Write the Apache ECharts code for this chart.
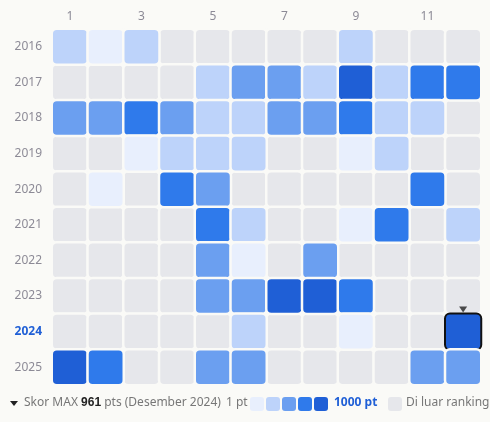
<!DOCTYPE html><html><head><meta charset="utf-8"><script src="https://cdn.jsdelivr.net/npm/echarts@6/dist/echarts.min.js"></script>
<style>html,body{margin:0;background:#fafaf7}#c{width:490px;height:422px}</style></head><body><div id="c"></div><script>
const months=['1','2','3','4','5','6','7','8','9','10','11','12'];
const years=['2016','2017','2018','2019','2020','2021','2022','2023','2024','2025'];
// score per month (null = outside ranking)
const s2016=[300,100,300,null,null,null,null,null,300,null,null,null];
const s2017=[null,null,null,null,300,550,550,300,950,300,780,780];
const s2018=[550,550,780,550,300,300,550,550,780,300,300,null];
const s2019=[null,null,100,300,300,300,null,null,100,300,null,null];
const s2020=[null,100,null,780,550,null,null,null,null,null,780,null];
const s2021=[null,null,null,null,780,300,null,null,100,780,null,300];
const s2022=[null,null,null,null,550,100,null,550,null,null,null,null];
const s2023=[null,null,null,null,550,550,950,950,780,null,null,null];
const s2024=[null,null,null,null,null,300,null,null,100,null,null,961];
const s2025=[950,780,null,null,550,550,null,null,null,null,550,550];
const rows=[s2016,s2017,s2018,s2019,s2020,s2021,s2022,s2023,s2024,s2025];
const pieces=[{gte:1,lt:200,color:'#e8effd'},{gte:200,lt:400,color:'#bdd3fa'},{gte:400,lt:700,color:'#6b9ff0'},{gte:700,lt:900,color:'#2f7aeb'},{gte:900,color:'#1f5fd6'}];
const data=[],gray=[];
rows.forEach((r,yi)=>r.forEach((v,mi)=>{
  if(v==null) gray.push([mi,yi,0]);
  else if(yi===8&&mi===11) data.push({value:[mi,yi,v],itemStyle:{borderColor:'#111',borderWidth:2}});
  else data.push([mi,yi,v]);
}));
const ch=echarts.init(document.getElementById('c'));
const lab='#8c8a96';
ch.setOption({
 backgroundColor:'#fafaf7',
 textStyle:{fontFamily:'Noto Sans'},
 grid:{left:52,right:9,top:29,bottom:37},
 xAxis:{type:'category',data:months,position:'top',axisLine:{show:false},axisTick:{show:false},splitLine:{show:false},
   axisLabel:{color:lab,fontSize:12,margin:6,formatter:v=>v==='12'?'{b|12}':v,rich:{b:{color:'#1f5fd6',fontWeight:'bold',fontSize:12}}}},
 yAxis:{type:'category',data:years,inverse:true,axisLine:{show:false},axisTick:{show:false},splitLine:{show:false},
   axisLabel:{color:lab,fontSize:12,margin:10,formatter:v=>v==='2024'?'{b|2024}':v,rich:{b:{color:'#1f5fd6',fontWeight:'bold',fontSize:12}}}},
 visualMap:{show:false,type:'piecewise',seriesIndex:1,dimension:2,pieces:pieces},
 series:[
  {type:'heatmap',data:gray,itemStyle:{color:'#e6e7eb',borderColor:'#fafaf7',borderWidth:2.5,borderRadius:5},emphasis:{disabled:true}},
  {type:'heatmap',data:data,itemStyle:{borderColor:'#fafaf7',borderWidth:2.5,borderRadius:5},emphasis:{disabled:true}},
  {type:'scatter',data:[[11,8]],symbol:'triangle',symbolRotate:180,symbolSize:[8,6],symbolOffset:[0,-22],itemStyle:{color:'#222'},silent:true}
 ],
 graphic:[
  {type:'polygon',shape:{points:[[10,401],[18,401],[14,406]]},style:{fill:'#222'}},
  {type:'text',left:24,top:397,style:{text:'Skor MAX {b|961} pts (Desember 2024)',font:'12px Noto Sans',fill:'#777',rich:{b:{fontWeight:'bold',fill:'#222',fontSize:12}}}},
  {type:'text',left:226,top:397,style:{text:'1 pt',font:'12px Noto Sans',fill:'#777'}},
  ...pieces.map((p,i)=>({type:'rect',shape:{x:250+i*16,y:397,width:14,height:14,r:3},style:{fill:p.color}})),
  {type:'text',left:334,top:397,style:{text:'1000 pt',font:'bold 12px Noto Sans',fill:'#1f5fd6'}},
  {type:'rect',shape:{x:388,y:397,width:14,height:14,r:3},style:{fill:'#e6e7eb'}},
  {type:'text',left:406,top:397,style:{text:'Di luar ranking',font:'12px Noto Sans',fill:'#777'}}
 ]
});
</script></body></html>
